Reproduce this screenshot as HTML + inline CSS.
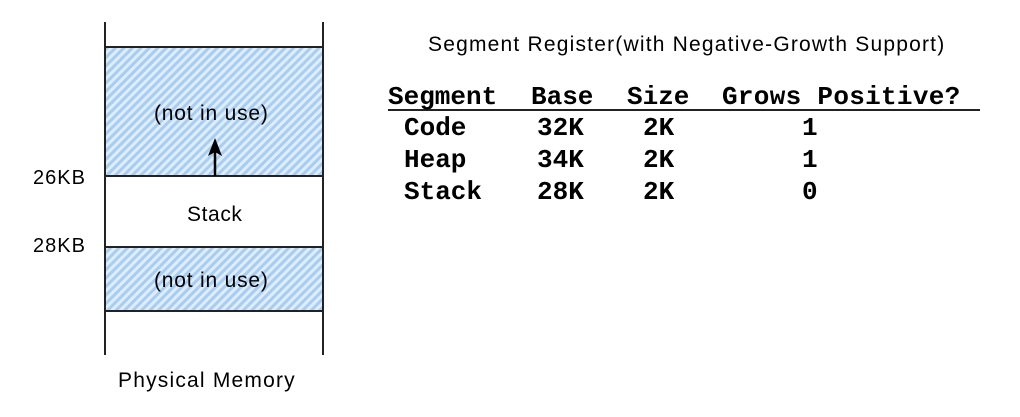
<!DOCTYPE html>
<html><head><style>
body{margin:0;width:1020px;height:417px;background:#fff;position:relative;overflow:hidden;font-family:"Liberation Sans","Noto Sans CJK KR",sans-serif}
.t{position:absolute;white-space:pre;line-height:1}
.m{font-family:"Liberation Mono",monospace;font-weight:bold;font-size:26px}
</style></head><body>
<svg width="1020" height="417" style="position:absolute;left:0;top:0">
<defs><pattern id="h" width="6" height="6" patternUnits="userSpaceOnUse" patternTransform="rotate(45)">
<rect width="6" height="6" fill="#deedfb"/><rect width="3" height="6" fill="#a9cdf0"/></pattern>
<marker id="a" markerUnits="userSpaceOnUse" markerWidth="18" markerHeight="18" refX="9" refY="9" orient="auto"><path d="M0,2 L18,9 L0,16 L4,9z" fill="#000"/></marker></defs>
<rect x="105" y="47" width="218" height="129" fill="url(#h)" stroke="#222" stroke-width="2"/>
<rect x="105" y="247" width="218" height="64" fill="url(#h)" stroke="#222" stroke-width="2"/>
<line x1="105" y1="176" x2="323" y2="176" stroke="#222" stroke-width="2"/>
<line x1="105" y1="22" x2="105" y2="355" stroke="#222" stroke-width="2"/>
<line x1="323" y1="22" x2="323" y2="355" stroke="#222" stroke-width="2"/>
<line x1="215" y1="176" x2="215" y2="147" stroke="#000" stroke-width="2.5" marker-end="url(#a)"/>
<line x1="388" y1="110" x2="980" y2="110" stroke="#222" stroke-width="2"/>
</svg>
<div class="t" style="left:154px;top:103px;font-size:21px;letter-spacing:0.8px">(not in use)</div>
<div class="t" style="left:187px;top:204px;font-size:21px;letter-spacing:0.6px">Stack</div>
<div class="t" style="left:154px;top:270px;font-size:21px;letter-spacing:0.8px">(not in use)</div>
<div class="t" style="left:33px;top:168px;font-size:20px;letter-spacing:1px">26KB</div>
<div class="t" style="left:33px;top:236px;font-size:20px;letter-spacing:1px">28KB</div>
<div class="t" style="left:118px;top:370px;font-size:21px;letter-spacing:1.2px">Physical Memory</div>
<div class="t" style="left:428px;top:34px;font-size:21px;letter-spacing:1.2px">Segment Register(with Negative-Growth Support)</div>
<div class="t m" style="left:388px;top:84px">Segment</div>
<div class="t m" style="left:531px;top:84px">Base</div>
<div class="t m" style="left:627px;top:84px">Size</div>
<div class="t m" style="left:722px;top:84px;letter-spacing:0.3px">Grows Positive?</div>
<div class="t m" style="left:404px;top:115px">Code</div>
<div class="t m" style="left:404px;top:147px">Heap</div>
<div class="t m" style="left:404px;top:179px">Stack</div>
<div class="t m" style="left:537px;top:115px">32K</div>
<div class="t m" style="left:537px;top:147px">34K</div>
<div class="t m" style="left:537px;top:179px">28K</div>
<div class="t m" style="left:643px;top:115px">2K</div>
<div class="t m" style="left:643px;top:147px">2K</div>
<div class="t m" style="left:643px;top:179px">2K</div>
<div class="t m" style="left:802px;top:115px">1</div>
<div class="t m" style="left:802px;top:147px">1</div>
<div class="t m" style="left:802px;top:179px">0</div>
</body></html>
